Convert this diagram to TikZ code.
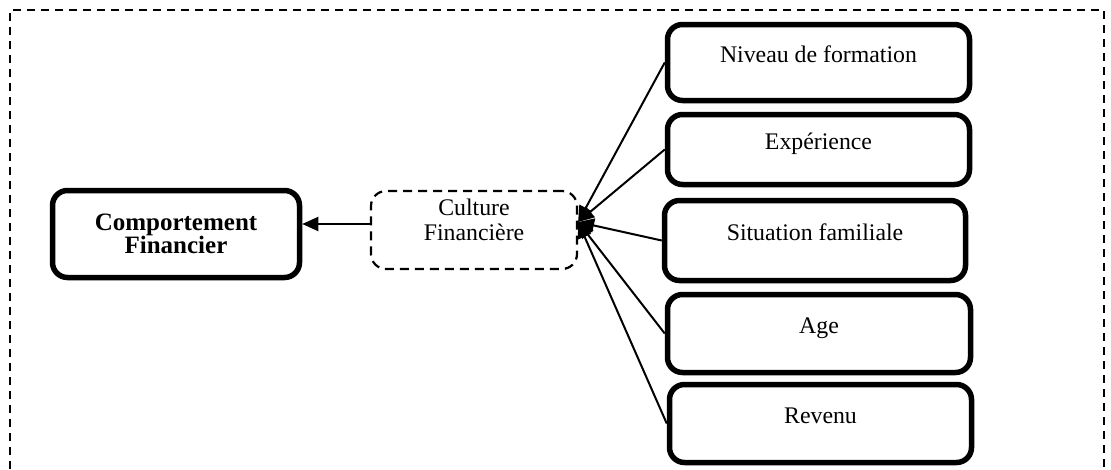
\documentclass[tikz,border=0pt]{standalone}
\usepackage{fontspec}
\setmainfont{Liberation Serif}
\usetikzlibrary{arrows.meta}
\begin{document}
\begin{tikzpicture}[x=1pt,y=-1pt,
  box/.style={draw, line width=5.5pt, rounded corners=15pt, inner sep=0pt,
    font=\fontsize{23.8}{25}\selectfont, text height=12pt, text depth=12pt},
  cbox/.style={draw, line width=5.5pt, rounded corners=15pt, inner sep=0pt,
    font=\fontsize{25}{23}\selectfont\bfseries, align=center},
  dbox/.style={draw, line width=2.2pt, rounded corners=15pt, inner sep=0pt,
    dash pattern=on 9pt off 6pt},
  txt/.style={font=\fontsize{23.8}{25}\selectfont, align=center, inner sep=0pt},
  link/.style={line width=2pt, -{Triangle[length=16pt,width=14pt]}},
  outer/.style={line width=1.8pt, dash pattern=on 8pt off 6pt}
]
\useasboundingbox (0,0) rectangle (1111,469);
\draw[outer] (10,469) -- (10,10) -- (1104,10) -- (1104,469);

\node[box, minimum width=302pt, minimum height=76pt] (niv) at (818.5,62.5) {Niveau de formation};
\node[box, minimum width=302pt, minimum height=70pt] (exp) at (818.5,149.5) {Expérience};
\node[box, minimum width=301pt, minimum height=80pt] (sit) at (815,240.5) {Situation familiale};
\node[box, minimum width=303pt, minimum height=78pt] (age) at (819,333.5) {Age};
\node[box, minimum width=302pt, minimum height=78pt] (rev) at (820.5,423.5) {Revenu};

\node[cbox, minimum width=247pt, minimum height=87pt] (cp) at (176,234) {Comportement\\Financier};

\node[dbox, minimum width=206pt, minimum height=78pt] (cul) at (474,230) {};
\node[txt] (cult) at (474,220) {Culture\\Financière};

\coordinate (hub) at ([yshift=8pt]cul.east);
\foreach \b in {niv,exp,sit,age,rev}
  \draw[link] (\b.west) -- (hub);

\draw[link] ([yshift=6pt]cul.west) -- ([yshift=10pt]cp.east);
\end{tikzpicture}
\end{document}
